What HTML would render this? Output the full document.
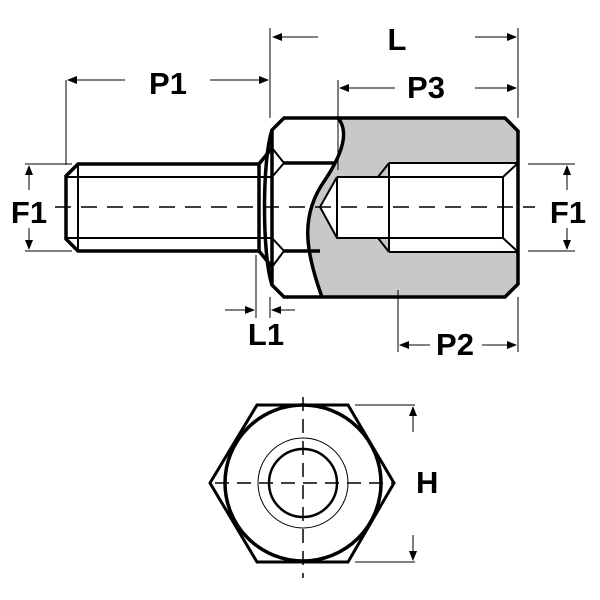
<!DOCTYPE html><html><head><style>body{margin:0;background:#fff}svg{display:block}</style></head><body>
<svg width="600" height="600" viewBox="0 0 600 600" xmlns="http://www.w3.org/2000/svg" font-family="Liberation Sans, sans-serif" font-weight="bold">
<defs><marker id="a" markerWidth="10" markerHeight="8" refX="9" refY="4" orient="auto" markerUnits="userSpaceOnUse"><path d="M0,0L10,4L0,8z" fill="#000"/></marker></defs>
<path d="M338,118 C348,130 345,150 325,180 C300,215 305,250 322,297 L505,297 L518,284 L518,131 L505,118 Z" fill="#c8c8c8"/>
<rect x="389" y="163" width="129" height="89" fill="#fff"/>
<path d="M337,177 L389,177 L389,238 L337,238 L320,207 Z" fill="#fff"/>
<g fill="none" stroke="#000" stroke-width="3.5">
<path d="M284,118 L505,118 L518,131 L518,284 L505,297 L284,297 L272,285 L272,130 Z"/>
<path d="M338,118 C348,130 345,150 325,180 C300,215 305,250 322,297"/>
<path d="M78,164 L259,164 L259,251 L78,251 L66,239 L66,176 Z"/>
<path d="M259,164 L272,148 M259,251 L272,267"/>
<path d="M272,130 C262,160 262,255 272,285"/>
<path d="M284,163 L336,163 M284,251 L320,251"/>
</g>
<g fill="none" stroke="#000" stroke-width="2">
<path d="M66,177 L272,177 M66,238 L272,238 M78,164 L78,251"/>
<path d="M272,148 L284,163 L272,177 M272,267 L284,251 L272,238"/>
<path d="M389,163 L518,163 M389,252 L518,252 M389,163 L389,252 M378,177 L503,177 M378,238 L503,238 M503,177 L503,238 M378,177 L389,163 M378,238 L389,252 M503,177 L518,163 M503,238 L518,252"/>
<path d="M337,177 L389,177 M389,238 L337,238 L320,207 L337,177 M337,177 L337,238"/>
</g>
<path d="M55,207 L535,207" stroke="#000" stroke-width="1.5" stroke-dasharray="16,10" fill="none"/>
<g stroke="#000" stroke-width="1" fill="none">
<path d="M270,28 L270,118 M518,28 L518,118 M66,80 L66,165 M338,80 L338,170 M25,164 L72,164 M25,251 L72,251 M528,164 L575,164 M528,251 L575,251 M256,255 L256,318 M270,297 L270,318 M398,290 L398,352 M518,297 L518,352"/>
<path d="M318,37 L273,37" marker-end="url(#a)"/><path d="M475,37 L516,37" marker-end="url(#a)"/>
<path d="M125,80 L68,80" marker-end="url(#a)"/><path d="M210,80 L268,80" marker-end="url(#a)"/>
<path d="M395,88 L340,88" marker-end="url(#a)"/><path d="M475,88 L516,88" marker-end="url(#a)"/>
<path d="M29,190 L29,166" marker-end="url(#a)"/><path d="M29,228 L29,249" marker-end="url(#a)"/>
<path d="M567,190 L567,166" marker-end="url(#a)"/><path d="M567,228 L567,249" marker-end="url(#a)"/>
<path d="M225,310 L254,310" marker-end="url(#a)"/><path d="M295,310 L272,310" marker-end="url(#a)"/>
<path d="M430,345 L400,345" marker-end="url(#a)"/><path d="M482,345 L516,345" marker-end="url(#a)"/>
<path d="M355,405 L415,405 M355,562 L415,562"/>
<path d="M413,432 L413,407" marker-end="url(#a)"/><path d="M413,535 L413,560" marker-end="url(#a)"/>
</g>
<g font-size="31" fill="#000" text-anchor="middle">
<text x="397" y="50">L</text><text x="168" y="94">P1</text><text x="426" y="98">P3</text>
<text x="29" y="223">F1</text><text x="568" y="223">F1</text>
<text x="266" y="345">L1</text><text x="455" y="355">P2</text><text x="416" y="493" text-anchor="start">H</text>
</g>
<g fill="none" stroke="#000">
<path d="M210,483 L257,405 L348,405 L394,483 L348,562 L257,562 Z" stroke-width="3"/>
<circle cx="303" cy="483" r="78" stroke-width="3.5"/>
<circle cx="303" cy="483" r="45" stroke-width="1"/>
<circle cx="303" cy="483" r="34" stroke-width="2.5"/>
<path d="M215,483 L392,483 M303,397 L303,578" stroke-width="1.5" stroke-dasharray="14,8"/>
</g>
</svg></body></html>
